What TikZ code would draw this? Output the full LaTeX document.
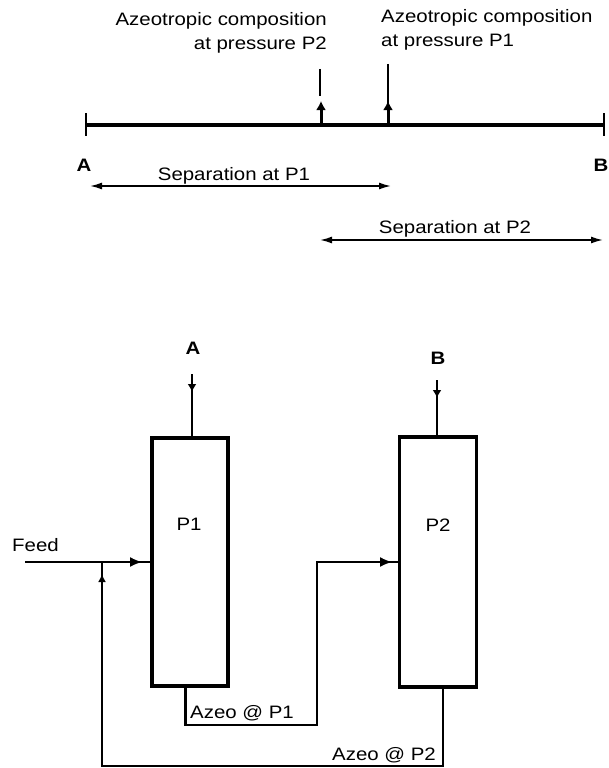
\documentclass[tikz,border=0pt]{standalone}
\usepackage{fontspec}
\setmainfont[FakeStretch=1.135]{Liberation Sans}
\usetikzlibrary{arrows.meta,calc}
\tikzset{
  px/.style={x=1pt,y=-1pt},
  lbl/.style={inner sep=0pt,font=\fontsize{18}{24}\selectfont},
  endlbl/.style={lbl,font=\fontsize{18}{24}\selectfont\bfseries},
  column/.style={draw,line width=3.6pt,minimum width=76pt,minimum height=248pt,inner sep=0pt},
  columnb/.style={draw,line width=2.4pt,minimum width=77pt,minimum height=248pt,inner sep=0pt},
  pipe/.style={line width=1.7pt},
  heavy/.style={line width=3.5pt},
  flow/.style={line width=3pt,-{Latex[length=9pt,width=10pt]}},
  flowlong/.style={line width=1.7pt,-{Latex[length=12pt,width=10pt]}},
  span/.style={line width=1.7pt,{Latex[length=12pt,width=7pt]}-{Latex[length=12pt,width=7pt]}}
}
\begin{document}
\begin{tikzpicture}[px]
\useasboundingbox (0,0) rectangle (609,768);
% composition axis
\coordinate (axA) at (86,125);
\coordinate (axB) at (604,125);
\coordinate (p2pt) at (321,125);
\coordinate (p1pt) at (388,125);
\draw[heavy] (axA) -- (axB);
\draw[pipe] (86,113) -- (86,136);
\draw[pipe] (604,113) -- (604,136);
\node[endlbl] (tA) at (84,165) {A};
\node[endlbl] (tB) at (601,165) {B};
\node[lbl,anchor=east,align=right] (az2) at (327,33) {Azeotropic composition\\at pressure P2};
\node[lbl,anchor=west,align=left] (az1) at (381,30) {Azeotropic composition\\at pressure P1};
\coordinate (a2top) at (320,69);
\coordinate (a2mid) at (320,96);
\coordinate (a1top) at (388,64);
\draw[pipe] (a2top) -- (a2mid);
\draw[flow] (p2pt) -- (321,101);
\draw[flow] (p1pt) -- (388,101);
\draw[pipe] (a1top) -- (388,105);
% separation ranges
\coordinate (s1a) at (90,186);
\coordinate (s1b) at (391,186);
\coordinate (s2a) at (320,240);
\coordinate (s2b) at (603,240);
\draw[span] (s1a) -- (s1b);
\draw[span] (s2a) -- (s2b);
\node[lbl] (sp1) at (234,176) {Separation at P1};
\node[lbl] (sp2) at (455,229) {Separation at P2};
% columns
\node[column] (P1) at (190,562) {};
\node[columnb] (P2) at (438,562) {};
\draw[line width=3.6pt] (P2.north west) -- (P2.north east);
\draw[line width=3.6pt] (P2.south west) -- (P2.south east);
\node[lbl] (lp1) at (189,524) {P1};
\node[lbl] (lp2) at (438,525) {P2};
% products
\node[endlbl] (prodA) at (193,348) {A};
\node[endlbl] (prodB) at (438,358) {B};
\coordinate (outA) at (192,374);
\coordinate (outB) at (437,380);
\draw[pipe] (P1.north -| outA) -- (outA);
\draw[pipe] (P2.north -| outB) -- (outB);
\draw[line width=2.5pt,-{Latex[length=8pt,width=9pt]}] (outA) -- (192,392);
\draw[line width=2.5pt,-{Latex[length=8pt,width=9pt]}] (outB) -- (437,398);
% feed
\node[lbl,anchor=west] (feed) at (12,545) {Feed};
\coordinate (fs) at (25,562);
\coordinate (fj) at (102,562);
\draw[pipe] (fs) -- (P1.west |- fs);
\draw[flowlong] (fj) -- (142,562);
% azeo P1
\coordinate (b1) at (185,725);
\coordinate (b2) at (317,725);
\coordinate (b3) at (317,562);
\draw[pipe] (P1.south -| b1) -- (b1) -- (b2) -- (b3) -- (P2.west |- b3);
\draw[flowlong] (b3) -- (392,562);
\draw[line width=3pt] (P1.south -| b1) -- (b1);
\node[lbl] (az1l) at (242,713) {Azeo @ P1};
% azeo P2
\coordinate (c1) at (443,766);
\coordinate (c2) at (102,766);
\draw[pipe] (P2.south -| c1) -- (c1) -- (c2) -- (fj);
\draw[line width=2.5pt,-{Latex[length=8pt,width=8pt]}] (102,590) -- (102,574);
\node[lbl] (az2l) at (384,755) {Azeo @ P2};
\end{tikzpicture}
\end{document}
